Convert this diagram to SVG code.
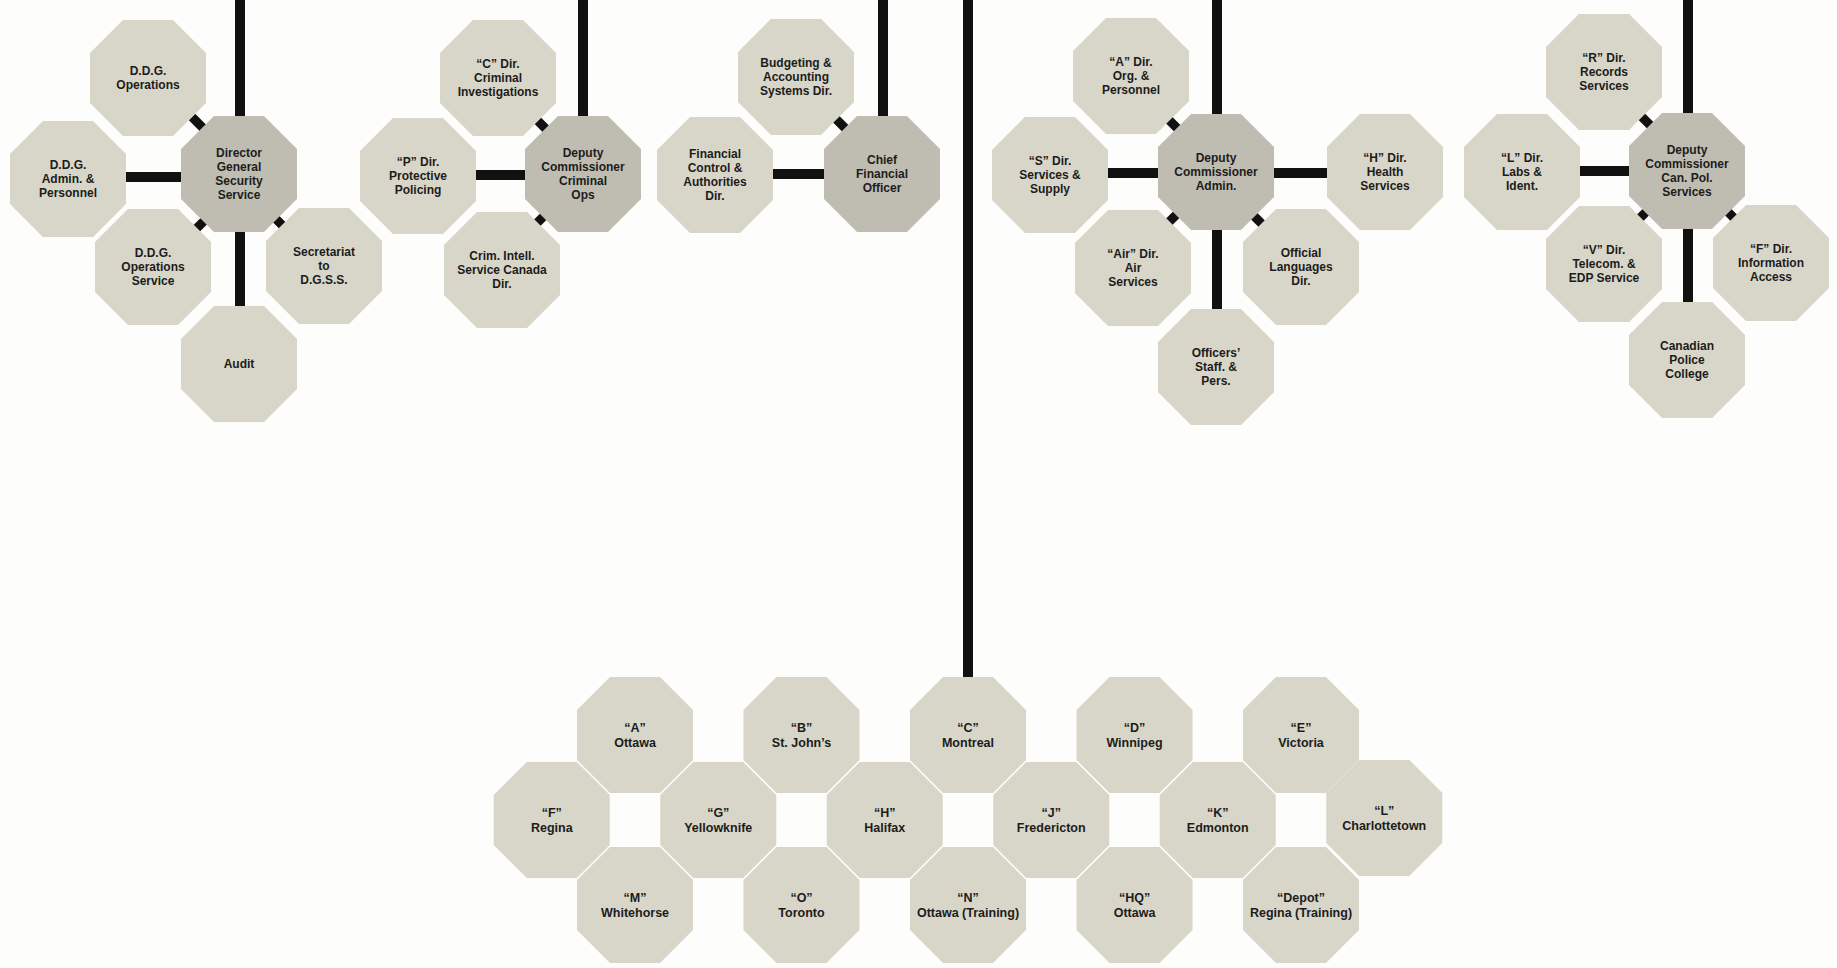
<svg xmlns="http://www.w3.org/2000/svg" xmlns:xlink="http://www.w3.org/1999/xlink" width="1837" height="968" viewBox="0 0 1837 968">
<defs>
<style>
.bg{fill:#fdfdfb}
.lt{fill:#d8d6c8}
.dk{fill:#bfbdb1}
.ln{stroke:#111;stroke-width:10;fill:none;stroke-linecap:butt}
.st{stroke:#111;stroke-width:9;fill:none;stroke-linecap:butt}
text{font-family:"Liberation Sans",Arial,sans-serif;font-weight:bold;fill:#1c1c1c;text-anchor:middle}
.t{font-size:12px}
.b{font-size:12.5px}
</style>
<path id="oct" d="M-25,-58 L25,-58 L58,-25 L58,25 L25,58 L-25,58 L-58,25 L-58,-25 Z"/>
</defs>
<rect class="bg" x="0" y="0" width="1837" height="968"/>

<g id="connectors">
<!-- cluster 1 -->
<line class="ln" x1="240" y1="0" x2="240" y2="140"/>
<line class="ln" x1="240" y1="210" x2="240" y2="330"/>
<line class="ln" x1="100" y1="177" x2="200" y2="177"/>
<line class="st" x1="192" y1="117" x2="208" y2="133"/>
<line class="st" x1="190" y1="235" x2="206" y2="219"/>
<line class="st" x1="274" y1="217" x2="290" y2="233"/>
<!-- cluster 2 -->
<line class="ln" x1="583" y1="0" x2="583" y2="140"/>
<line class="ln" x1="450" y1="175" x2="550" y2="175"/>
<line class="st" x1="534" y1="117" x2="550" y2="133"/>
<line class="st" x1="532" y1="228" x2="548" y2="212"/>
<!-- cluster 3 -->
<line class="ln" x1="883" y1="0" x2="883" y2="140"/>
<line class="ln" x1="750" y1="174" x2="850" y2="174"/>
<line class="st" x1="834" y1="117" x2="850" y2="133"/>
<!-- main trunk -->
<line class="ln" x1="968" y1="0" x2="968" y2="700"/>
<!-- cluster 4 -->
<line class="ln" x1="1217" y1="0" x2="1217" y2="140"/>
<line class="ln" x1="1217" y1="200" x2="1217" y2="330"/>
<line class="ln" x1="1080" y1="173" x2="1360" y2="173"/>
<line class="st" x1="1166" y1="117" x2="1182" y2="133"/>
<line class="st" x1="1165" y1="226" x2="1181" y2="210"/>
<line class="st" x1="1250" y1="212" x2="1266" y2="228"/>
<!-- cluster 5 -->
<line class="ln" x1="1688" y1="0" x2="1688" y2="140"/>
<line class="ln" x1="1688" y1="200" x2="1688" y2="330"/>
<line class="ln" x1="1550" y1="171" x2="1660" y2="171"/>
<line class="st" x1="1639" y1="114" x2="1655" y2="130"/>
<line class="st" x1="1637" y1="221" x2="1653" y2="205"/>
<line class="st" x1="1723" y1="207" x2="1739" y2="223"/>
</g>

<!-- Cluster 1 -->
<g id="dgss"><use xlink:href="#oct" href="#oct" class="dk" x="239" y="174"/>
<text class="t"><tspan x="239" y="157">Director</tspan><tspan x="239" y="171">General</tspan><tspan x="239" y="185">Security</tspan><tspan x="239" y="199">Service</tspan></text></g>
<g id="ddg-ops"><use xlink:href="#oct" href="#oct" class="lt" x="148" y="78"/>
<text class="t"><tspan x="148" y="75">D.D.G.</tspan><tspan x="148" y="89">Operations</tspan></text></g>
<g id="ddg-admin"><use xlink:href="#oct" href="#oct" class="lt" x="68" y="179"/>
<text class="t"><tspan x="68" y="169">D.D.G.</tspan><tspan x="68" y="183">Admin. &amp;</tspan><tspan x="68" y="197">Personnel</tspan></text></g>
<g id="ddg-ops-service"><use xlink:href="#oct" href="#oct" class="lt" x="153" y="267"/>
<text class="t"><tspan x="153" y="257">D.D.G.</tspan><tspan x="153" y="271">Operations</tspan><tspan x="153" y="285">Service</tspan></text></g>
<g id="secretariat"><use xlink:href="#oct" href="#oct" class="lt" x="324" y="266"/>
<text class="t"><tspan x="324" y="256">Secretariat</tspan><tspan x="324" y="270">to</tspan><tspan x="324" y="284">D.G.S.S.</tspan></text></g>
<g id="audit"><use xlink:href="#oct" href="#oct" class="lt" x="239" y="364"/>
<text class="t"><tspan x="239" y="368">Audit</tspan></text></g>

<!-- Cluster 2 -->
<g id="dc-crim"><use xlink:href="#oct" href="#oct" class="dk" x="583" y="174"/>
<text class="t"><tspan x="583" y="157">Deputy</tspan><tspan x="583" y="171">Commissioner</tspan><tspan x="583" y="185">Criminal</tspan><tspan x="583" y="199">Ops</tspan></text></g>
<g id="c-dir"><use xlink:href="#oct" href="#oct" class="lt" x="498" y="78"/>
<text class="t"><tspan x="498" y="68">“C” Dir.</tspan><tspan x="498" y="82">Criminal</tspan><tspan x="498" y="96">Investigations</tspan></text></g>
<g id="p-dir"><use xlink:href="#oct" href="#oct" class="lt" x="418" y="176"/>
<text class="t"><tspan x="418" y="166">“P” Dir.</tspan><tspan x="418" y="180">Protective</tspan><tspan x="418" y="194">Policing</tspan></text></g>
<g id="crim-intell"><use xlink:href="#oct" href="#oct" class="lt" x="502" y="270"/>
<text class="t"><tspan x="502" y="260">Crim. Intell.</tspan><tspan x="502" y="274">Service Canada</tspan><tspan x="502" y="288">Dir.</tspan></text></g>

<!-- Cluster 3 -->
<g id="cfo"><use xlink:href="#oct" href="#oct" class="dk" x="882" y="174"/>
<text class="t"><tspan x="882" y="164">Chief</tspan><tspan x="882" y="178">Financial</tspan><tspan x="882" y="192">Officer</tspan></text></g>
<g id="budgeting"><use xlink:href="#oct" href="#oct" class="lt" x="796" y="77"/>
<text class="t"><tspan x="796" y="67">Budgeting &amp;</tspan><tspan x="796" y="81">Accounting</tspan><tspan x="796" y="95">Systems Dir.</tspan></text></g>
<g id="fin-control"><use xlink:href="#oct" href="#oct" class="lt" x="715" y="175"/>
<text class="t"><tspan x="715" y="158">Financial</tspan><tspan x="715" y="172">Control &amp;</tspan><tspan x="715" y="186">Authorities</tspan><tspan x="715" y="200">Dir.</tspan></text></g>

<!-- Cluster 4 -->
<g id="dc-admin"><use xlink:href="#oct" href="#oct" class="dk" x="1216" y="172"/>
<text class="t"><tspan x="1216" y="162">Deputy</tspan><tspan x="1216" y="176">Commissioner</tspan><tspan x="1216" y="190">Admin.</tspan></text></g>
<g id="a-dir"><use xlink:href="#oct" href="#oct" class="lt" x="1131" y="76"/>
<text class="t"><tspan x="1131" y="66">“A” Dir.</tspan><tspan x="1131" y="80">Org. &amp;</tspan><tspan x="1131" y="94">Personnel</tspan></text></g>
<g id="s-dir"><use xlink:href="#oct" href="#oct" class="lt" x="1050" y="175"/>
<text class="t"><tspan x="1050" y="165">“S” Dir.</tspan><tspan x="1050" y="179">Services &amp;</tspan><tspan x="1050" y="193">Supply</tspan></text></g>
<g id="h-dir"><use xlink:href="#oct" href="#oct" class="lt" x="1385" y="172"/>
<text class="t"><tspan x="1385" y="162">“H” Dir.</tspan><tspan x="1385" y="176">Health</tspan><tspan x="1385" y="190">Services</tspan></text></g>
<g id="air-dir"><use xlink:href="#oct" href="#oct" class="lt" x="1133" y="268"/>
<text class="t"><tspan x="1133" y="258">“Air” Dir.</tspan><tspan x="1133" y="272">Air</tspan><tspan x="1133" y="286">Services</tspan></text></g>
<g id="off-lang"><use xlink:href="#oct" href="#oct" class="lt" x="1301" y="267"/>
<text class="t"><tspan x="1301" y="257">Official</tspan><tspan x="1301" y="271">Languages</tspan><tspan x="1301" y="285">Dir.</tspan></text></g>
<g id="officers"><use xlink:href="#oct" href="#oct" class="lt" x="1216" y="367"/>
<text class="t"><tspan x="1216" y="357">Officers’</tspan><tspan x="1216" y="371">Staff. &amp;</tspan><tspan x="1216" y="385">Pers.</tspan></text></g>

<!-- Cluster 5 -->
<g id="dc-cps"><use xlink:href="#oct" href="#oct" class="dk" x="1687" y="171"/>
<text class="t"><tspan x="1687" y="154">Deputy</tspan><tspan x="1687" y="168">Commissioner</tspan><tspan x="1687" y="182">Can. Pol.</tspan><tspan x="1687" y="196">Services</tspan></text></g>
<g id="r-dir"><use xlink:href="#oct" href="#oct" class="lt" x="1604" y="72"/>
<text class="t"><tspan x="1604" y="62">“R” Dir.</tspan><tspan x="1604" y="76">Records</tspan><tspan x="1604" y="90">Services</tspan></text></g>
<g id="l-dir"><use xlink:href="#oct" href="#oct" class="lt" x="1522" y="172"/>
<text class="t"><tspan x="1522" y="162">“L” Dir.</tspan><tspan x="1522" y="176">Labs &amp;</tspan><tspan x="1522" y="190">Ident.</tspan></text></g>
<g id="v-dir"><use xlink:href="#oct" href="#oct" class="lt" x="1604" y="264"/>
<text class="t"><tspan x="1604" y="254">“V” Dir.</tspan><tspan x="1604" y="268">Telecom. &amp;</tspan><tspan x="1604" y="282">EDP Service</tspan></text></g>
<g id="f-dir"><use xlink:href="#oct" href="#oct" class="lt" x="1771" y="263"/>
<text class="t"><tspan x="1771" y="253">“F” Dir.</tspan><tspan x="1771" y="267">Information</tspan><tspan x="1771" y="281">Access</tspan></text></g>
<g id="cpc"><use xlink:href="#oct" href="#oct" class="lt" x="1687" y="360"/>
<text class="t"><tspan x="1687" y="350">Canadian</tspan><tspan x="1687" y="364">Police</tspan><tspan x="1687" y="378">College</tspan></text></g>

<!-- Divisions -->
<g id="div-a"><use xlink:href="#oct" href="#oct" class="lt" x="635" y="735"/>
<text class="b"><tspan x="635" y="732">“A”</tspan><tspan x="635" y="747">Ottawa</tspan></text></g>
<g id="div-b"><use xlink:href="#oct" href="#oct" class="lt" x="801.5" y="735"/>
<text class="b"><tspan x="801.5" y="732">“B”</tspan><tspan x="801.5" y="747">St. John’s</tspan></text></g>
<g id="div-c"><use xlink:href="#oct" href="#oct" class="lt" x="968" y="735"/>
<text class="b"><tspan x="968" y="732">“C”</tspan><tspan x="968" y="747">Montreal</tspan></text></g>
<g id="div-d"><use xlink:href="#oct" href="#oct" class="lt" x="1134.5" y="735"/>
<text class="b"><tspan x="1134.5" y="732">“D”</tspan><tspan x="1134.5" y="747">Winnipeg</tspan></text></g>
<g id="div-e"><use xlink:href="#oct" href="#oct" class="lt" x="1301" y="735"/>
<text class="b"><tspan x="1301" y="732">“E”</tspan><tspan x="1301" y="747">Victoria</tspan></text></g>

<g id="div-f"><use xlink:href="#oct" href="#oct" class="lt" x="551.75" y="820"/>
<text class="b"><tspan x="551.75" y="817">“F”</tspan><tspan x="551.75" y="832">Regina</tspan></text></g>
<g id="div-g"><use xlink:href="#oct" href="#oct" class="lt" x="718.25" y="820"/>
<text class="b"><tspan x="718.25" y="817">“G”</tspan><tspan x="718.25" y="832">Yellowknife</tspan></text></g>
<g id="div-h"><use xlink:href="#oct" href="#oct" class="lt" x="884.75" y="820"/>
<text class="b"><tspan x="884.75" y="817">“H”</tspan><tspan x="884.75" y="832">Halifax</tspan></text></g>
<g id="div-j"><use xlink:href="#oct" href="#oct" class="lt" x="1051.25" y="820"/>
<text class="b"><tspan x="1051.25" y="817">“J”</tspan><tspan x="1051.25" y="832">Fredericton</tspan></text></g>
<g id="div-k"><use xlink:href="#oct" href="#oct" class="lt" x="1217.75" y="820"/>
<text class="b"><tspan x="1217.75" y="817">“K”</tspan><tspan x="1217.75" y="832">Edmonton</tspan></text></g>
<g id="div-l"><use xlink:href="#oct" href="#oct" class="lt" x="1384.25" y="818"/>
<text class="b"><tspan x="1384.25" y="815">“L”</tspan><tspan x="1384.25" y="830">Charlottetown</tspan></text></g>

<g id="div-m"><use xlink:href="#oct" href="#oct" class="lt" x="635" y="905"/>
<text class="b"><tspan x="635" y="902">“M”</tspan><tspan x="635" y="917">Whitehorse</tspan></text></g>
<g id="div-o"><use xlink:href="#oct" href="#oct" class="lt" x="801.5" y="905"/>
<text class="b"><tspan x="801.5" y="902">“O”</tspan><tspan x="801.5" y="917">Toronto</tspan></text></g>
<g id="div-n"><use xlink:href="#oct" href="#oct" class="lt" x="968" y="905"/>
<text class="b"><tspan x="968" y="902">“N”</tspan><tspan x="968" y="917">Ottawa (Training)</tspan></text></g>
<g id="div-hq"><use xlink:href="#oct" href="#oct" class="lt" x="1134.5" y="905"/>
<text class="b"><tspan x="1134.5" y="902">“HQ”</tspan><tspan x="1134.5" y="917">Ottawa</tspan></text></g>
<g id="div-depot"><use xlink:href="#oct" href="#oct" class="lt" x="1301" y="905"/>
<text class="b"><tspan x="1301" y="902">“Depot”</tspan><tspan x="1301" y="917">Regina (Training)</tspan></text></g>
</svg>
